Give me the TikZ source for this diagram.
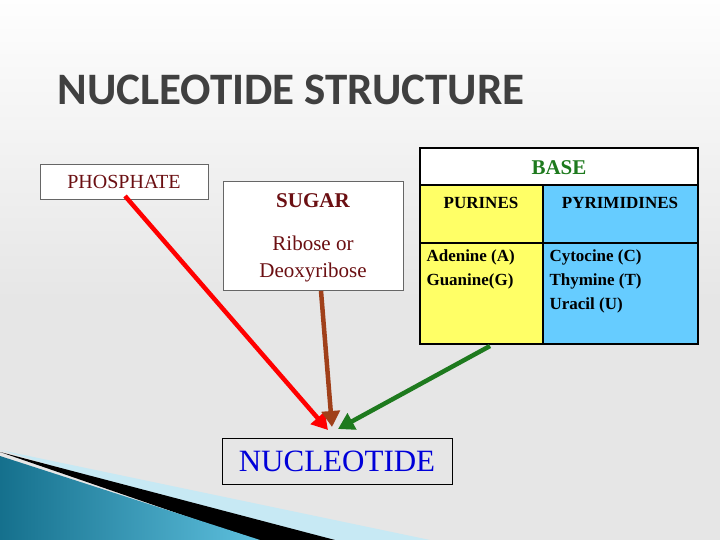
\documentclass[tikz,border=0pt]{standalone}
\usepackage{fontspec}
\setmainfont{Liberation Serif}
\newfontfamily\titlefont{Carlito}
\usetikzlibrary{arrows.meta}
\definecolor{bg}{HTML}{E6E6E6}
\definecolor{dred}{HTML}{6B0F12}
\definecolor{bgreen}{HTML}{1E7A1E}
\definecolor{yel}{HTML}{FFFF66}
\definecolor{sky}{HTML}{66CCFF}
\definecolor{teal1}{HTML}{1A8CB0}
\definecolor{teal2}{HTML}{5EC0DE}
\definecolor{brn}{HTML}{A0401A}
\tikzset{
  lbl/.style={font=\fontsize{20}{22}\selectfont},
  arr/.style={line width=4.5pt,-{Triangle[length=16pt,width=18pt]}},
  cell/.style={draw=black,line width=2.5pt}
}
\begin{document}
\begin{tikzpicture}[x=1pt,y=-1pt]
\useasboundingbox (0,0) rectangle (720,540);
\shade[top color=white!95!bg,bottom color=bg] (0,0) rectangle (720,300);
\fill[bg] (0,300) rectangle (720,540);
% bottom-left decoration
\fill[teal2!35] (0,450) -- (430,540) -- (300,540) -- cycle;
\fill[black] (0,452) -- (335,540) -- (255,540) -- cycle;
\path[left color=teal1!80!black,right color=teal2] (0,456) -- (260,540) -- (0,540) -- cycle;
% title
\node[anchor=west,text=black!75,font=\titlefont\bfseries\fontsize{45}{48}\selectfont] (title) at (54,90) {NUCLEOTIDE STRUCTURE};
% phosphate
\node[draw=black!60,fill=white,minimum width=168pt,minimum height=35pt,text=dred,lbl] (phos) at (124,181.5) {PHOSPHATE};
% sugar
\node[draw=black!60,fill=white,minimum width=180pt,minimum height=109pt] (sugar) at (313,235.5) {};
\node[text=dred,font=\bfseries\fontsize{21}{22}\selectfont] (sugt) at (313,201) {SUGAR};
\node[text=dred,align=center,font=\fontsize{21}{27}\selectfont] (sugd) at (313,259) {Ribose or\\Deoxyribose};
% base table
\fill[white] (420,148) rectangle (698,185);
\fill[yel] (420,185) rectangle (543,344);
\fill[sky] (543,185) rectangle (698,344);
\draw[cell] (420,148) rectangle (698,344);
\draw[cell] (420,185) -- (698,185);
\draw[cell] (420,243) -- (698,243);
\draw[cell] (543,185) -- (543,344);
\node[text=bgreen,font=\bfseries\fontsize{21}{22}\selectfont] (base) at (559,168) {BASE};
\node[font=\bfseries\fontsize{17}{18}\selectfont] (pur) at (481,203) {PURINES};
\node[font=\bfseries\fontsize{17}{18}\selectfont] (pyr) at (620,203) {PYRIMIDINES};
\node[anchor=north west,align=left,font=\bfseries\fontsize{17}{24}\selectfont] (purl) at (423,246) {Adenine (A)\\Guanine(G)};
\node[anchor=north west,align=left,font=\bfseries\fontsize{17}{24}\selectfont] (pyrl) at (546,246) {Cytocine (C)\\Thymine (T)\\Uracil (U)};
% nucleotide
\node[draw=black,fill=bg,minimum width=230pt,minimum height=46pt,text=blue!85!black,font=\fontsize{31}{32}\selectfont] (nuc) at (337,461) {NUCLEOTIDE};
\coordinate (redS) at (125,196);
\coordinate (brnS) at (321,291);
\coordinate (grnS) at (490,346);
\coordinate (redE) at (328,430);
\coordinate (brnE) at (332,427);
\coordinate (grnE) at (338,429);
\draw[arr,red] (redS) -- (redE);
\draw[arr,brn] (brnS) -- (brnE);
\draw[arr,bgreen] (grnS) -- (grnE);
\end{tikzpicture}
\end{document}
